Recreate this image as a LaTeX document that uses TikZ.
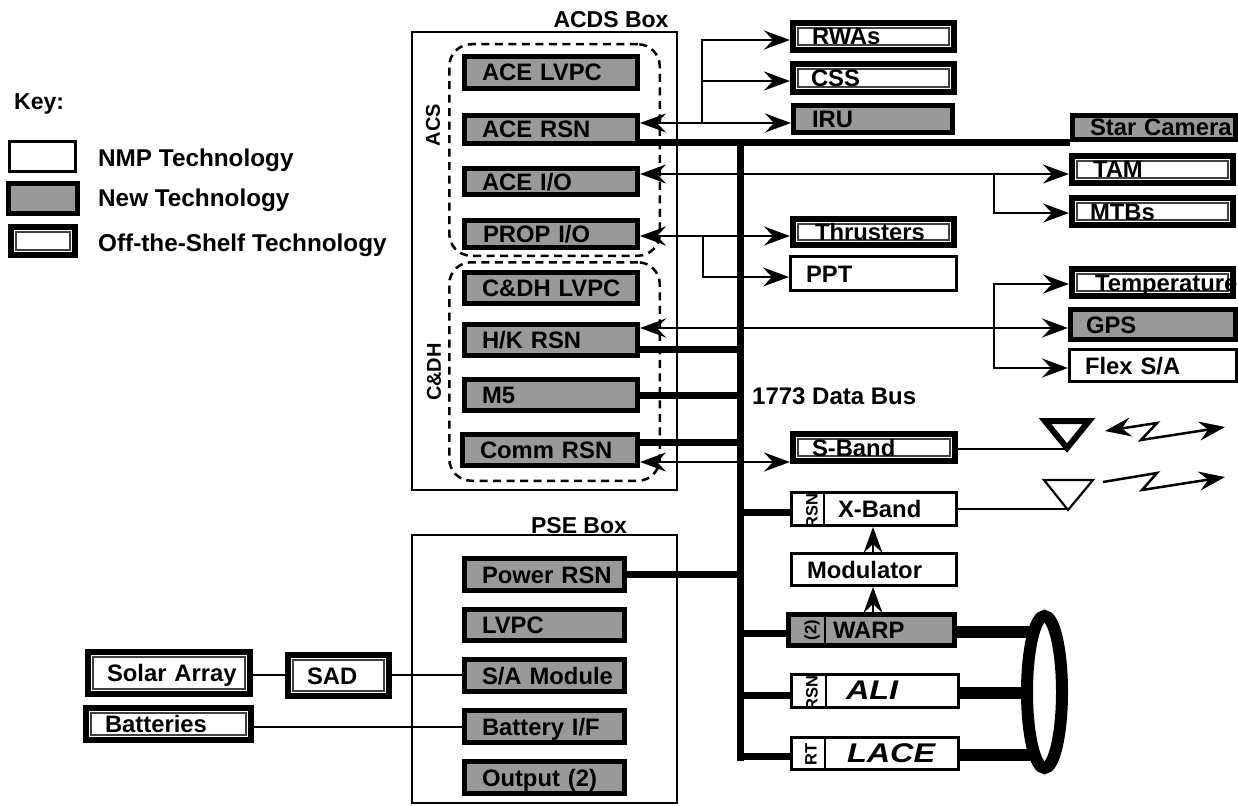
\documentclass[tikz,border=0pt]{standalone}
\usepackage{fontspec}
\usepackage{graphicx}
\setmainfont{Liberation Sans}
\usetikzlibrary{arrows.meta,shapes.geometric}
\def\lwnmp{3}\def\lwnewt{5}\def\lwshelf{6}\def\lwcontainer{2}\def\lwdashbox{2.5}
\definecolor{halftone}{gray}{0.6}
\newcommand\bx[8]{%
  \pgfmathsetmacro\bw{#5-#3-\csname lw#2\endcsname}%
  \pgfmathsetmacro\bh{#6-#4-\csname lw#2\endcsname}%
  \pgfmathsetmacro\bo{#7-#3-0.5*\csname lw#2\endcsname}%
  \node[#2,minimum width=\bw pt,minimum height=\bh pt,text width=\bw pt] (#1) at ({(#3+#5)/2},{(#4+#6)/2}) {\hspace*{\bo pt}\mbox{#8}};}
\tikzset{
  x=1pt,y=-1pt,
  basebox/.style={rectangle,inner sep=0pt,align=left,font=\bfseries\fontsize{23.8}{24}\selectfont,text height=17pt,text depth=0pt},
  nmp/.style={basebox,draw=black,fill=white,line width=3pt},
  newt/.style={basebox,draw=black,fill=halftone,line width=5pt,font=\bfseries\fontsize{23.8}{24}\selectfont,text height=17pt},
  shelf/.style={basebox,draw=black,fill=white,line width=6pt,
    path picture={\draw[line width=1.2pt,black!75] ([shift={(5pt,5pt)}]path picture bounding box.south west) rectangle ([shift={(-5pt,-5pt)}]path picture bounding box.north east);}},
  container/.style={rectangle,inner sep=0pt,draw=black,line width=2pt},
  dashbox/.style={rectangle,inner sep=0pt,draw=black,line width=2.5pt,rounded corners=22pt,dash pattern=on 8pt off 5.5pt},
  lab/.style={inner sep=0pt,font=\bfseries\fontsize{24}{24}\selectfont},
  grp/.style={inner sep=0pt,rotate=90,font=\bfseries\fontsize{20}{20}\selectfont},
  cell/.style={inner sep=0pt,rotate=90,font=\bfseries\fontsize{16.5}{17}\selectfont},
  wire/.style={line width=2pt,draw=black},
  arr/.style={wire,-{Stealth[length=26pt,width=19pt,inset=9pt]}},
  biarr/.style={wire,{Stealth[length=26pt,width=19pt,inset=9pt]}-{Stealth[length=26pt,width=19pt,inset=9pt]}},
  bus/.style={line width=7pt,draw=black},
  fat/.style={line width=12.5pt,draw=black},
  bolt/.style={line width=2.5pt,draw=black,line join=miter},
}
\begin{document}
\begin{tikzpicture}
\useasboundingbox (0,0) rectangle (1238,805);
% key
\node[lab,anchor=west,font=\bfseries\fontsize{23}{24}\selectfont] (keyt) at (14,104) {Key:};
\bx{knmp}{nmp}{8}{140}{77}{173}{8}{}
\bx{knew}{newt}{6}{181}{80}{216}{6}{}
\bx{kshelf}{shelf}{8}{224}{78}{258}{8}{}
\node[lab,anchor=west,font=\bfseries\fontsize{24.3}{24}\selectfont] (kt1) at (98,160) {NMP Technology};
\node[lab,anchor=west,font=\bfseries\fontsize{24.3}{24}\selectfont] (kt2) at (98,200) {New Technology};
\node[lab,anchor=west,font=\bfseries\fontsize{24.3}{24}\selectfont] (kt3) at (98,245) {Off-the-Shelf Technology};
% containers
\bx{acds}{container}{411}{31}{678}{491}{411}{}
\bx{pse}{container}{411}{534}{678}{804}{411}{}
\node[lab,font=\bfseries\fontsize{23}{24}\selectfont] (acdst) at (611,20) {ACDS Box};
\node[lab,font=\bfseries\fontsize{23}{24}\selectfont] (pset) at (579,526) {PSE Box};
\bx{acsg}{dashbox}{448}{43}{661}{257}{448}{}
\bx{cdhg}{dashbox}{448}{261}{661}{482}{448}{}
\node[grp] (acst) at (433,125) {ACS};
\node[grp] (cdht) at (434,372) {C\&DH};
% ACDS content
\bx{acelvpc}{newt}{462}{54}{640}{91}{482}{ACE LVPC}
\bx{acersn}{newt}{462}{113}{640}{146}{482}{ACE RSN}
\bx{aceio}{newt}{462}{166}{640}{197}{482}{ACE I/O}
\bx{propio}{newt}{462}{218}{640}{250}{483}{PROP I/O}
\bx{cdhlvpc}{newt}{462}{270}{640}{306}{482}{C\&DH LVPC}
\bx{hkrsn}{newt}{462}{322}{640}{358}{482}{H/K RSN}
\bx{mfive}{newt}{462}{377}{640}{413}{482}{M5}
\bx{commrsn}{newt}{460}{432}{640}{468}{480}{Comm RSN}
% PSE content
\bx{powerrsn}{newt}{462}{556}{627}{593}{482}{Power RSN}
\bx{lvpc}{newt}{462}{607}{627}{643}{482}{LVPC}
\bx{samod}{newt}{462}{657}{627}{694}{482}{S/A Module}
\bx{batif}{newt}{462}{708}{627}{745}{482}{Battery I/F}
\bx{output}{newt}{462}{759}{627}{796}{482}{Output (2)}
% right column
\bx{rwas}{shelf}{790}{20}{957}{53}{812}{RWAs}
\bx{css}{shelf}{790}{61}{957}{95}{811}{CSS}
\bx{iru}{newt}{791}{103}{955}{135}{812}{IRU}
\bx{thrusters}{shelf}{790}{216}{957}{248}{815}{Thrusters}
\bx{ppt}{nmp}{789}{255}{958}{292}{806}{PPT}
\bx{sband}{shelf}{790}{431}{958}{464}{812}{S-Band}
\bx{xband}{nmp}{790}{491}{958}{527}{838}{X-Band}
\bx{modulator}{nmp}{790}{552}{958}{587}{807}{Modulator}
\bx{warp}{newt}{786}{612}{957}{648}{833}{WARP}
\bx{ali}{nmp}{790}{673}{960}{709}{846}{\itshape\fontsize{27}{27}\selectfont\scalebox{1.2}[1]{ALI}}
\bx{lace}{nmp}{790}{736}{960}{771}{847}{\itshape\fontsize{27}{27}\selectfont\scalebox{1.2}[1]{LACE}}
\bx{star}{newt}{1070}{113}{1238}{142}{1090}{Star Camera}
\bx{tam}{shelf}{1069}{153}{1236}{186}{1093}{TAM}
\bx{mtbs}{shelf}{1069}{195}{1236}{228}{1090}{MTBs}
\bx{temp}{shelf}{1069}{266}{1236}{299}{1095}{Temperature}
\bx{gps}{newt}{1068}{307}{1238}{342}{1086}{GPS}
\bx{flex}{nmp}{1068}{348}{1238}{383}{1085}{Flex S/A}
% left
\bx{solar}{shelf}{85}{649}{253}{697}{107}{Solar Array}
\bx{sad}{shelf}{285}{652}{392}{699}{307}{SAD}
\bx{batt}{shelf}{83}{705}{254}{743}{105}{Batteries}
% RSN cells
\draw[line width=2.5pt] (824,491) -- (824,527);
\draw[line width=2.5pt] (826,673) -- (826,709);
\draw[line width=2.5pt] (825,736) -- (825,771);
\draw[line width=2pt] (825,617) -- (825,643);
\node[cell] (xrsn) at (812,511) {RSN};
\node[cell] (wrsn) at (812,630) {(2)};
\node[cell] (arsn) at (812,693) {RSN};
\node[cell] (lrt) at (811,754) {RT};
% bus
\coordinate (bustop) at (740,143);
\coordinate (busbot) at (740,757);
\draw[bus,line cap=rect] (bustop) -- (busbot);
\draw[bus] (acersn.east |- 0,143) -- (star.west |- 0,143);
\draw[bus] (hkrsn.east |- 0,349) -- (bustop |- 0,349);
\draw[bus] (mfive.east |- 0,395) -- (bustop |- 0,395);
\draw[bus] (commrsn.east |- 0,442) -- (bustop |- 0,442);
\draw[bus] (powerrsn.east |- 0,574) -- (bustop |- 0,574);
\draw[bus] (bustop |- 0,512) -- (xband.west |- 0,512);
\draw[bus] (bustop |- 0,633) -- (warp.west |- 0,633);
\draw[bus] (bustop |- 0,695) -- (ali.west |- 0,695);
\draw[bus] (bustop |- 0,756) -- (lace.west |- 0,756);
\node[lab,anchor=west] (bustext) at (752,396) {1773 Data Bus};
% signal arrows
\coordinate (ba) at (702,123);
\coordinate (bb) at (994,174);
\coordinate (bc) at (703,236);
\coordinate (bd) at (994,327);
\draw[biarr] (acersn.east |- 0,123) -- (iru.west |- 0,123);
\draw[arr] (ba) |- (rwas.west |- 0,40);
\draw[arr] (ba) |- (css.west |- 0,81);
\draw[biarr] (aceio.east |- 0,174) -- (tam.west |- 0,174);
\draw[arr] (bb) |- (mtbs.west |- 0,213);
\draw[biarr] (propio.east |- 0,236) -- (thrusters.west |- 0,236);
\draw[arr] (bc) |- (ppt.west |- 0,277);
\draw[biarr] (hkrsn.east |- 0,328) -- (gps.west |- 0,328);
\draw[arr] (bd) |- (temp.west |- 0,284);
\draw[arr] (bd) |- (flex.west |- 0,368);
\draw[biarr] (commrsn.east |- 0,462) -- (sband.west |- 0,462);
\draw[arr] (warp.north -| 873,0) -- (modulator.south -| 873,0);
\draw[arr] (modulator.north -| 873,0) -- (xband.south -| 873,0);
% instruments to lens
\coordinate (lensin) at (1032,692);
\draw[fat] (warp.east |- 0,632) -- (lensin |- 0,632);
\draw[fat] (ali.east |- 0,693) -- (lensin |- 0,693);
\draw[fat] (lace.east |- 0,755) -- (lensin |- 0,755);
\node[ellipse,draw=black,line width=12pt,inner sep=0pt,minimum width=35pt,minimum height=152pt] (lens) at (1044.5,692) {};
% antennas
\coordinate (anta) at (1067,449);
\coordinate (antb) at (1068,509);
\draw[wire] (sband.east |- 0,449) -- (anta);
\draw[wire] (xband.east |- 0,509) -- (antb);
\draw[line width=6pt,line join=miter,fill=white] (1045,421) -- (1089,421) -- (1067,448) -- cycle;
\draw[line width=2.2pt,line join=miter,fill=white] (1044,480) -- (1093,480) -- (1068,510) -- cycle;
\draw[bolt,{Stealth[length=26pt,width=19pt,inset=9pt]}-{Stealth[length=26pt,width=19pt,inset=9pt]}] (1105,431) -- (1157,423) -- (1141,440) -- (1225,427);
\draw[bolt,-{Stealth[length=26pt,width=19pt,inset=9pt]}] (1103,482) -- (1157,473) -- (1142,490) -- (1225,477);
% power wires
\draw[wire] (solar.east |- 0,675) -- (sad.west |- 0,675);
\draw[wire] (sad.east |- 0,675) -- (samod.west |- 0,675);
\draw[wire] (batt.east |- 0,727) -- (batif.west |- 0,727);
\end{tikzpicture}
\end{document}
